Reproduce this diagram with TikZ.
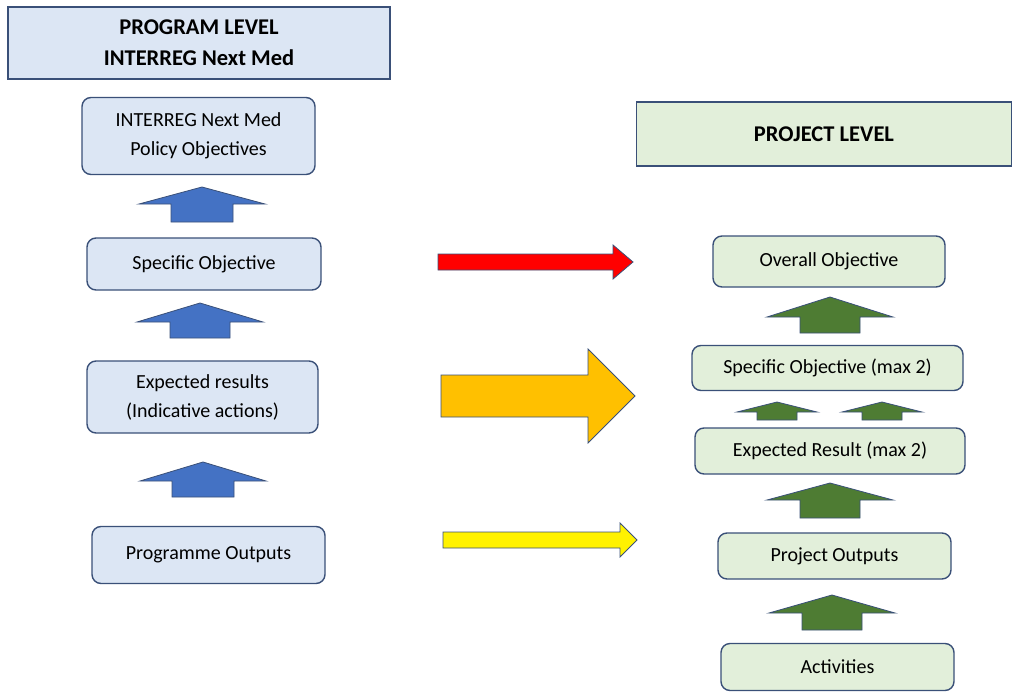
\documentclass[tikz,border=0pt]{standalone}
\usepackage{fontspec}
\setmainfont{Carlito}
\usepackage{tikz}
\definecolor{boxblue}{HTML}{DCE6F4}
\definecolor{boxgreen}{HTML}{E2EFDA}
\definecolor{edgeblue}{HTML}{3A5078}
\definecolor{arrblue}{HTML}{4472C4}
\definecolor{arrgreen}{HTML}{4E7C33}
\definecolor{arrorange}{HTML}{FFC000}
\def\fatup[#1](#2,#3)(#4:#5:#6:#7:#8){\draw[#1] ({#2-#8},#6) -- ({#2-#8},#5) -- ({#2-#7},#5) -- (#2,#3) -- ({#2+#7},#5) -- ({#2+#8},#5) -- ({#2+#8},#6) -- cycle;}
\def\fatright[#1](#2,#3)(#4:#5:#6:#7){\draw[#1] (#2,{#3-#6}) -- (#4,{#3-#6}) -- (#4,{#3-#7}) -- (#5,#3) -- (#4,{#3+#7}) -- (#4,{#3+#6}) -- (#2,{#3+#6}) -- cycle;}
\tikzset{
  lvlbox/.style={draw=edgeblue, line width=1.4pt, font=\fontsize{22.5}{31}\selectfont\bfseries, align=center, inner sep=0pt},
  bluebox/.style={draw=edgeblue, fill=boxblue, line width=1.4pt, rounded corners=9pt, font=\fontsize{20}{29}\selectfont, align=center, inner sep=0pt},
  greenbox/.style={bluebox, fill=boxgreen},
  bluearr/.style={fill=arrblue, draw=edgeblue, line width=0.8pt},
  greenarr/.style={fill=arrgreen, draw=edgeblue, line width=0.8pt}
}
\begin{document}
\begin{tikzpicture}[x=1pt,y=-1pt]
				\useasboundingbox (0,0) rectangle (1012,693);
				
				% program level
				\node[lvlbox, fill=boxblue, minimum width=382pt, minimum height=72pt] (proglevel) at (199,43) {PROGRAM LEVEL\\INTERREG Next Med};
				\node[bluebox, minimum width=233pt, minimum height=77pt] (policyobj) at (198.5,136) {INTERREG Next Med\\Policy Objectives};
				\node[bluebox, minimum width=234pt, minimum height=52pt] (specobj) at (204,264) {Specific Objective};
				\node[bluebox, minimum width=231pt, minimum height=72pt] (expresults) at (202.5,397) {Expected results\\(Indicative actions)};
				\node[bluebox, minimum width=233pt, minimum height=57pt] (progoutputs) at (208.5,555) {Programme Outputs};
				
				\fatup[bluearr](202,187)(0:204:222:63:31)
				\fatup[bluearr](200,303)(0:322:338:63:30)
				\fatup[bluearr](203,462)(0:481:497:63:31)
				
				% project level
				\node[lvlbox, fill=boxgreen, minimum width=375pt, minimum height=64pt] (projlevel) at (824,134) {PROJECT LEVEL};
				\node[greenbox, minimum width=232pt, minimum height=51pt] (overallobj) at (829,261.5) {Overall Objective};
				\node[greenbox, minimum width=271pt, minimum height=45pt] (specmax) at (827.5,368) {Specific Objective (max 2)};
				\node[greenbox, minimum width=270pt, minimum height=46pt] (expmax) at (830,451) {Expected Result (max 2)};
				\node[greenbox, minimum width=233pt, minimum height=46pt] (projoutputs) at (834.5,556) {Project Outputs};
				\node[greenbox, minimum width=233pt, minimum height=47pt] (activities) at (837.5,667) {Activities};
				
				\fatup[greenarr](830,297)(0:317:333:63:30)
				\fatup[greenarr](777,402)(0:412:420:40:20)
				\fatup[greenarr](882,402)(0:412:420:40:20)
				\fatup[greenarr](830,483)(0:500:518:63:30)
				\fatup[greenarr](832,595)(0:613:630:63:30)
				
				% links between levels
				\fatright[fill=red, draw=edgeblue, line width=0.8pt](438,262)(613:633:8:17)
				\fatright[fill=arrorange, draw=edgeblue, line width=0.8pt](441,396)(588:635:21:47)
				\fatright[fill=yellow, draw=edgeblue, line width=0.8pt](443,540)(620:637:8:17)
			\end{tikzpicture}
\end{document}
